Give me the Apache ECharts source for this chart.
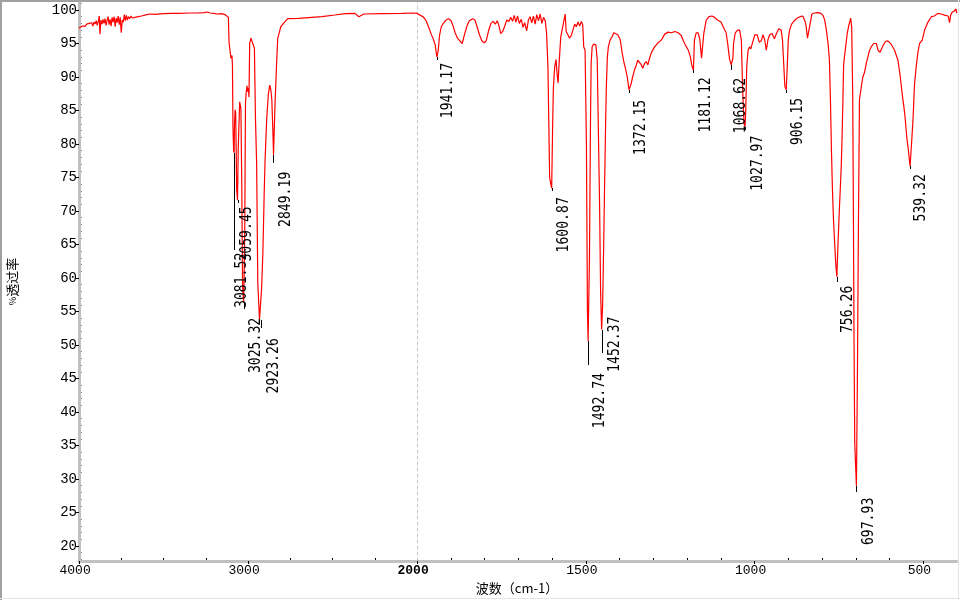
<!DOCTYPE html>
<html><head><meta charset="utf-8">
<script src="https://cdn.jsdelivr.net/npm/echarts@6/dist/echarts.min.js"></script>
<style>html,body{margin:0;padding:0;background:#fff}#c{width:960px;height:600px}</style>
</head><body><div id="c"></div>
<script>
// ---- spectrum 4000 -> 2000 cm-1 ----
const wnHigh = [4000,3990,3980,3970,3962,3955,3948,3940,3932,3925,3918,3912,3905,3898,3892,3886,3880,3876,3870,3864,3858,3852,3846,3840,3834,3828,3822,3816,3810,3804,3798,3792,3786,3780,3774,3768,3762,3756,3750,3744,3738,3732,3726,3720,3714,3708,3700,3692,3684,3676,3668,3660,3650,3640,3630,3620,3600,3580,3550,3500,3450,3400,3350,3300,3260,3240,3225,3200,3186,3156,3135,3126,3116,3112,3106,3101,3097,3095,3092,3089,3085,3082,3080,3076,3073,3070,3067,3062,3058,3054,3049,3045,3042,3037,3032,3026,3023,3019,3015,3011,3006,3002,2998,2994,2990,2985,2982,2976,2970,2962,2956,2949,2942,2932,2924,2920,2912,2904,2899,2889,2879,2871,2865,2859,2853,2849,2845,2840,2830,2824,2816,2806,2790,2765,2700,2622,2563,2486,2427,2368,2344,2315,2207,2089,2018,2000];
const tHigh = [97.3,97.5,97.6,97.8,97.6,97.9,97.7,98.0,97.8,98.1,97.6,98.2,97.9,98.4,97.7,98.3,99.1,96.4,98.5,97.9,98.6,98.0,98.7,97.7,98.4,99.0,97.8,98.6,97.6,98.9,98.2,99.0,97.5,98.8,98.1,99.1,97.8,98.9,96.6,98.5,98.2,99.3,98.4,99.2,98.5,99.0,98.7,99.1,98.8,99.0,98.9,99.1,99.0,99.2,99.1,99.3,99.3,99.4,99.35,99.45,99.5,99.5,99.55,99.55,99.6,99.7,99.55,99.5,99.4,99.45,99.3,99.25,98.9,95.1,95.0,92.8,92.6,93.2,91.8,82.5,79.0,78.7,83.0,85.1,84.7,79.2,73.2,71.6,79.0,82.5,86.3,86.5,85.3,74.3,58.7,56.3,60.0,67.5,86.0,87.6,88.7,87.8,88.4,87.0,95.1,95.5,95.8,95.3,95.1,94.3,84.0,77.2,59.2,53.8,53.7,58.2,63.7,72.8,77.6,83.9,87.6,88.8,88.1,86.6,82.0,78.4,78.5,86.0,92.5,95.8,96.5,97.5,98.0,98.7,98.75,98.9,99.0,99.25,99.45,99.5,99.0,99.4,99.45,99.5,99.55,99.5];
// ---- spectrum 2000 -> 400 cm-1 ----
const wnLow = [2000,1996,1990,1982,1973,1966,1958,1952,1946,1943,1941,1937,1933,1928,1922,1914,1907,1899,1893,1887,1880,1873,1866,1860,1852,1845,1835,1828,1822,1815,1808,1800,1795,1788,1781,1774,1768,1762,1757,1752,1746,1740,1734,1728,1722,1717,1712,1707,1702,1697,1691,1686,1681,1675,1670,1665,1660,1655,1650,1645,1640,1635,1630,1625,1620,1616,1612,1607,1603,1601,1598,1596,1592,1588,1585,1582,1579,1574,1569,1565,1561,1558,1553,1548,1543,1538,1533,1528,1523,1518,1513,1509,1506,1502,1498,1495,1493,1490,1489,1486,1484,1481,1477,1474,1470,1466,1462,1459,1456,1453,1450,1447,1444,1441,1439,1436,1433,1428,1422,1417,1412,1405,1398,1392,1387,1382,1377,1372,1366,1361,1356,1350,1346,1341,1336,1331,1326,1321,1316,1311,1306,1296,1286,1276,1266,1256,1246,1236,1226,1217,1211,1205,1196,1190,1186,1181,1178,1173,1167,1162,1157,1154,1150,1143,1135,1126,1118,1110,1099,1093,1084,1079,1074,1069,1064,1062,1057,1050,1044,1039,1035,1031,1028,1026,1023,1019,1015,1011,1006,999,992,986,980,975,970,965,960,955,948,941,934,928,921,917,914,910,906,903,900,896,890,882,873,865,857,851,847,843,839,835,830,822,812,803,797,792,787,782,778,775,772,769,766,763,759,756,753,749,743,740,738,736,730,725,720,715,712,709,707,705,703,701,698,695,692,689,684,679,674,669,664,659,654,647,639,634,628,620,612,605,595,585,575,568,562,555,548,544,541,539,534,530,526,521,516,511,503,496,486,476,467,457,447,435,426,422,419,414,408,403,401,400];
const tLow = [99.5,99.3,99.2,99.0,98.4,97.5,96.4,95.7,94.8,93.6,93.0,94.0,96.3,97.5,98.0,98.5,98.7,98.4,97.6,96.6,95.8,95.4,95.0,96.2,97.6,98.4,98.7,98.5,97.5,96.3,95.4,95.1,95.4,96.9,98.0,98.3,97.9,98.4,97.6,96.5,96.8,97.6,98.5,98.3,98.9,98.3,99.2,98.2,99.1,98.0,98.6,97.4,98.1,96.9,98.5,99.0,98.1,99.1,97.9,99.3,98.4,99.4,98.0,98.9,98.4,96.5,91.5,75.0,73.9,73.4,83.0,88.3,91.5,92.6,90.5,89.1,92.0,96.0,97.3,97.5,99.4,96.8,96.3,95.8,96.2,97.0,97.9,97.5,98.2,97.6,98.3,97.8,94.5,94.0,80.0,55.2,50.6,60.0,63.1,83.1,92.1,94.5,94.9,95.1,94.8,92.6,80.2,71.0,58.0,52.3,56.0,64.5,74.3,83.6,88.5,93.0,94.5,95.5,96.0,96.6,96.6,96.3,95.6,93.6,92.2,91.2,90.0,88.1,88.9,90.0,91.0,91.8,92.5,92.7,91.9,91.3,92.0,92.3,91.8,92.8,93.6,94.5,95.1,95.5,96.4,96.7,96.6,96.8,96.6,96.2,95.4,94.8,94.0,93.0,91.8,91.0,95.5,96.6,96.6,95.6,92.8,92.6,96.6,98.5,99.0,99.1,98.9,98.5,98.2,97.5,96.6,94.8,92.7,91.8,92.8,95.0,96.6,97.0,97.0,95.5,88.0,83.0,82.6,85.0,91.5,94.0,94.5,94.2,95.1,96.3,96.3,95.2,95.4,96.3,95.6,94.0,95.6,96.3,96.5,95.7,96.6,97.2,97.0,95.5,92.5,88.6,88.1,91.5,95.5,97.0,97.9,98.4,98.8,99.0,99.1,98.4,97.6,95.8,95.8,98.0,99.4,99.55,99.6,99.5,99.2,98.5,97.0,95.0,92.5,86.6,79.1,73.1,68.7,65.7,61.9,60.2,64.5,69.7,76.6,82.1,86.6,91.8,94.5,96.6,97.8,98.8,97.4,87.6,69.9,50.0,35.4,32.8,29.0,45.8,68.4,86.6,88.4,90.0,90.7,92.0,93.0,94.0,94.5,95.0,95.0,94.0,93.7,94.6,95.3,95.4,94.9,94.0,92.5,90.0,87.3,84.6,80.6,79.1,77.6,76.7,80.6,84.0,88.8,91.5,93.6,95.0,95.5,97.0,98.2,99.0,99.1,99.5,99.4,99.2,99.1,98.1,99.2,99.7,99.85,100.15,99.6,99.5];
// ---- labelled peaks ----
const peakWn = [3081.52,3059.45,3025.32,2923.26,2849.19,1941.17,1600.87,1492.74,1452.37,1372.15,1181.12,1068.62,1027.97,906.15,756.26,697.93,539.32];
const peakT  = [78.7,71.6,56.3,53.7,78.4,93.0,73.4,50.6,52.3,88.1,91.0,91.8,82.6,88.1,60.2,29.0,76.7];
// ---- axis ticks ----
const yTicks = [20,25,30,35,40,45,50,55,60,65,70,75,80,85,90,95,100];
const xTicksHigh = [4000,3000,2000];
const xLabelsHigh = [4000,3000];
const xTicksLow = [2000,1500,1000,500];
const xMinorHigh = [3750,3500,3250,2750,2500,2250];
const xMinorLow = [1900,1800,1700,1600,1400,1300,1200,1100,900,800,700,600];

// ---- label layout (pixels, relative to the peak point) ----
const labelLeader = [97,3,6,8,8,3,3,24,23,3,3,5,3,3,5,6,3];
const labelDx = [1,2,5,6,5,4,5,5,6,5,5,2.5,6,5,4.5,5,4];
const labelDy = [100,6,15,18,17,6,9,32,-13,10,7,13,9,8,9,12,8];

const yMinor = []; for (let v = 18; v <= 101; v++) if (v % 5) yMinor.push(v);
const Y_MIN = 17.761, Y_MAX = 101.194;
const GRAY = '#c0c0c0';
const MONO = 'Liberation Mono';
function zip(a, b) { return a.map((v, i) => [v, b[i]]); }

function renderPeak(params, api) {
  const i = api.value(2);
  const p = api.coord([api.value(0), api.value(1)]);
  const x = Math.round(p[0]) + 0.5, y = Math.round(p[1]);
  return {
    type: 'group',
    children: [
      { type: 'line', shape: { x1: x, y1: y, x2: x, y2: y + labelLeader[i] },
        style: { stroke: '#000', lineWidth: 1 } },
      { type: 'text', x: p[0] + labelDx[i] - 1, y: p[1] + labelDy[i],
        rotation: Math.PI / 2, scaleX: 0.82, scaleY: 1,
        style: { text: peakWn[i].toFixed(2), fill: '#000', font: '16px "DejaVu Sans Mono"',
                 textAlign: 'right', textVerticalAlign: 'top', align: 'right', verticalAlign: 'top' } }
    ]
  };
}

const peakData = peakWn.map((w, i) => [w, peakT[i], i]);

const chart = echarts.init(document.getElementById('c'), null, { renderer: 'canvas', width: 960, height: 600 });
const option = {
  animation: false,
  backgroundColor: '#ffffff',
  textStyle: { fontFamily: MONO },
  grid: [
    { left: 79, top: 2, width: 338, height: 559, containLabel: false, outerBoundsMode: 'none' },
    { left: 417, top: 2, width: 540, height: 559, containLabel: false, outerBoundsMode: 'none' }
  ],
  xAxis: [
    { gridIndex: 0, type: 'value', min: 2000, max: 4000, inverse: true, position: 'bottom', z: 1,
      axisLine: { show: true, onZero: false, lineStyle: { color: GRAY, width: 3 } },
      axisTick: { show: true, inside: false, length: 3, customValues: xTicksHigh, lineStyle: { color: '#000', width: 1 } },
      axisLabel: { show: true, margin: 3, customValues: xLabelsHigh, formatter: v => v + ' ',
                   color: '#000', fontFamily: MONO, fontSize: 13 },
      splitLine: { show: false } },
    { gridIndex: 1, type: 'value', min: 400, max: 2000, inverse: true, position: 'bottom', z: 1,
      axisLine: { show: true, onZero: false, lineStyle: { color: GRAY, width: 3 } },
      axisTick: { show: true, inside: false, length: 3, customValues: xTicksLow, lineStyle: { color: '#000', width: 1 } },
      axisLabel: { show: true, margin: 3, customValues: xTicksLow,
                   formatter: v => (v === 2000 ? '{b|' + v + ' }' : v + ' '),
                   color: '#000', fontFamily: MONO, fontSize: 13,
                   rich: { b: { fontWeight: 'bold', fontFamily: MONO, fontSize: 13, color: '#000' } } },
      splitLine: { show: false } },
    { gridIndex: 0, type: 'value', min: 2000, max: 4000, inverse: true, position: 'bottom', z: 0,
      axisLine: { show: false, onZero: false },
      axisTick: { show: true, inside: true, length: 3, customValues: xMinorHigh, lineStyle: { color: '#000', width: 1 } },
      axisLabel: { show: false }, splitLine: { show: false } },
    { gridIndex: 1, type: 'value', min: 400, max: 2000, inverse: true, position: 'bottom', z: 0,
      axisLine: { show: false, onZero: false },
      axisTick: { show: true, inside: true, length: 3, customValues: xMinorLow, lineStyle: { color: '#000', width: 1 } },
      axisLabel: { show: false }, splitLine: { show: false } }
  ],
  yAxis: [
    { gridIndex: 0, type: 'value', min: Y_MIN, max: Y_MAX, position: 'left', z: 1,
      name: '{p|%}透过率', nameLocation: 'middle', nameRotate: 90, nameGap: 60,
      nameTextStyle: { color: '#000', fontFamily: 'Noto Sans CJK SC', fontSize: 13,
                       rich: { p: { fontSize: 9, fontFamily: 'Noto Sans CJK SC', color: '#000' } } },
      axisLine: { show: true, onZero: false, lineStyle: { color: GRAY, width: 3 } },
      axisTick: { show: true, inside: false, length: 3, customValues: yTicks, lineStyle: { color: '#000', width: 1 } },
      axisLabel: { show: true, margin: 2, customValues: yTicks, color: '#000', fontFamily: MONO, fontSize: 14 },
      splitLine: { show: false } },
    { gridIndex: 0, type: 'value', min: Y_MIN, max: Y_MAX, position: 'left', z: 0,
      axisLine: { show: false, onZero: false },
      axisTick: { show: true, inside: true, length: 2.5, customValues: yMinor, lineStyle: { color: '#000', width: 1 } },
      axisLabel: { show: false }, splitLine: { show: false } },
    { gridIndex: 1, type: 'value', min: Y_MIN, max: Y_MAX, position: 'left', z: 0,
      axisLine: { show: true, onZero: false, lineStyle: { color: '#c8c8c8', width: 1, type: [3, 3] } },
      axisTick: { show: false }, axisLabel: { show: false }, splitLine: { show: false } }
  ],
  graphic: [
    { type: 'line', z: 100, shape: { x1: 0, y1: 1, x2: 960, y2: 1 }, style: { stroke: '#a0a0a0', lineWidth: 2 } },
    { type: 'line', z: 100, shape: { x1: 1, y1: 0, x2: 1, y2: 600 }, style: { stroke: '#a0a0a0', lineWidth: 2 } },
    { type: 'line', z: 100, shape: { x1: 0, y1: 598.5, x2: 960, y2: 598.5 }, style: { stroke: '#e4e4e4', lineWidth: 1 } },
    { type: 'line', z: 100, shape: { x1: 958.5, y1: 0, x2: 958.5, y2: 600 }, style: { stroke: '#e4e4e4', lineWidth: 1 } },
    { type: 'text', z: 100, x: 517, y: 588,
      style: { text: '波数（cm-1）', font: '13px "Noto Sans CJK SC"', fill: '#000',
               textAlign: 'center', textVerticalAlign: 'middle', align: 'center', verticalAlign: 'middle' } }
  ],
  series: [
    { type: 'line', xAxisIndex: 0, yAxisIndex: 0, data: zip(wnHigh, tHigh), symbol: 'none', showSymbol: false,
      lineStyle: { color: '#ff0000', width: 1.2 }, silent: true, z: 2 },
    { type: 'line', xAxisIndex: 1, yAxisIndex: 2, data: zip(wnLow, tLow), symbol: 'none', showSymbol: false,
      lineStyle: { color: '#ff0000', width: 1.2 }, silent: true, z: 2 },
    { type: 'custom', xAxisIndex: 0, yAxisIndex: 0, clip: false, silent: true, z: 3,
      data: peakData.filter(d => d[0] >= 2000), renderItem: renderPeak },
    { type: 'custom', xAxisIndex: 1, yAxisIndex: 2, clip: false, silent: true, z: 3,
      data: peakData.filter(d => d[0] < 2000), renderItem: renderPeak }
  ]
};
chart.setOption(option);
</script>
</body></html>
